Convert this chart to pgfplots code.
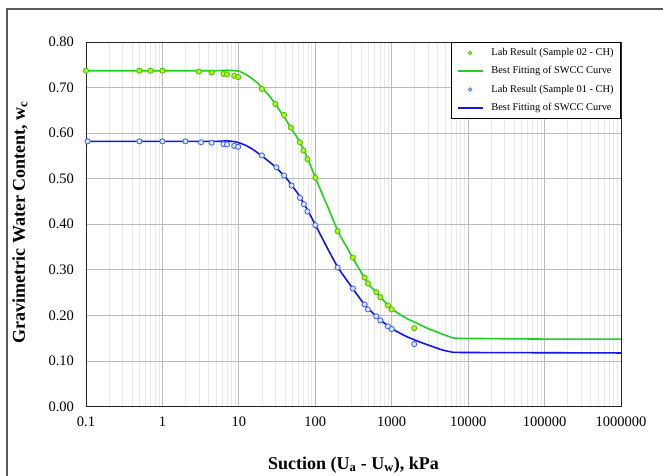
\documentclass[border=0pt]{standalone}
\usepackage{fontspec}
\setmainfont{Liberation Serif}
\usepackage{pgfplots}
\pgfplotsset{compat=1.18}
\definecolor{gline}{HTML}{1ED21E}
\definecolor{bline}{HTML}{1414F0}
\definecolor{gfill}{HTML}{B8F020}
\definecolor{gedge}{HTML}{44C400}
\definecolor{bfill}{HTML}{D4E8FF}
\definecolor{bedge}{HTML}{3A5CFF}
\definecolor{majgrid}{HTML}{BBBBBB}
\definecolor{mingrid}{HTML}{E8E8E8}
\definecolor{framec}{HTML}{5A5A5A}
\begin{document}
\begin{tikzpicture}
\useasboundingbox (0bp,0bp) rectangle (663bp,476bp);
\fill[white] (0bp,0bp) rectangle (663bp,476bp);
\draw[framec, line width=1.5bp] (7bp,-20bp) -- (7bp,467bp) -- (700bp,467bp);
\begin{axis}[
 at={(86bp,69.5bp)}, anchor=south west,
 scale only axis, width=535bp, height=364.5bp,
 xmode=log, xmin=0.1, xmax=1000000, ymin=0, ymax=0.8,
 xtick={0.1,1,10,100,1000,10000,100000,1000000},
 xticklabels={0.1,1,10,100,1000,10000,100000,1000000},
 minor xtick={0.2,0.3,0.4,0.5,0.6,0.7,0.8,0.9,2,3,4,5,6,7,8,9,20,30,40,50,60,70,80,90,200,300,400,500,600,700,800,900,2000,3000,4000,5000,6000,7000,8000,9000,20000,30000,40000,50000,60000,70000,80000,90000,200000,300000,400000,500000,600000,700000,800000,900000},
 ytick={0,0.1,0.2,0.3,0.4,0.5,0.6,0.7,0.8},
 yticklabels={0.00,0.10,0.20,0.30,0.40,0.50,0.60,0.70,0.80},
 grid=both,
 major grid style={majgrid, line width=0.8bp},
 minor grid style={mingrid, line width=0.6bp},
 major tick length=0pt, minor tick length=0pt,
 axis line style={black!85, line width=0.9bp},
 tick label style={font=\fontsize{14.5bp}{17bp}\selectfont},
 /pgf/number format/assume math mode=true,
 xticklabel style={yshift=-6.7bp},
 yticklabel style={xshift=-8.5bp},
 legend cell align=left,
 legend style={at={(1,1)}, anchor=north east, draw=black, line width=0.8bp, fill=white,
   font=\fontsize{10.4bp}{12bp}\selectfont, row sep=4.3bp, inner xsep=5bp, inner ysep=3.5bp,
   nodes={inner sep=2bp, text height=7.5bp, text depth=2.5bp},
   /tikz/every odd column/.append style={column sep=6bp}},
 legend image code/.code={\draw[mark repeat=2,mark phase=2,#1] plot coordinates {(0bp,0bp) (12.5bp,0bp) (25bp,0bp)};},
]
\addlegendimage{only marks, mark=*, mark size=1.8bp, mark options={draw=gedge, fill=gfill, line width=0.7bp}}
\addlegendentry{Lab Result (Sample 02 - CH)}
\addlegendimage{gline, line width=1.6bp}
\addlegendentry{Best Fitting of SWCC Curve}
\addlegendimage{only marks, mark=*, mark size=1.8bp, mark options={draw=bedge, fill=bfill, line width=0.7bp}}
\addlegendentry{Lab Result (Sample 01 - CH)}
\addlegendimage{bline, line width=1.6bp}
\addlegendentry{Best Fitting of SWCC Curve}

% green fitted curve
\addplot[gline, line width=1.6bp, smooth, tension=0.4, forget plot] coordinates {
(0.1,0.737) (1,0.737) (3,0.737) (5,0.737) (7,0.738) (9,0.737) (10,0.736) (12,0.730) (14,0.723)
(17,0.712) (20,0.700) (25,0.682) (30,0.664) (40,0.633) (50,0.607) (60,0.586) (70,0.565) (80,0.543)
(90,0.522) (100,0.503) (120,0.471) (150,0.433) (200,0.383) (250,0.354) (300,0.330) (400,0.294)
(500,0.268) (600,0.254) (700,0.242) (800,0.231) (900,0.222) (1000,0.214) (1500,0.195) (2000,0.185)
(2660,0.175) (3000,0.171) (4420,0.160) (5500,0.154) (6600,0.150) (10000,0.1495) (100000,0.148) (1000000,0.148)};
% blue fitted curve
\addplot[bline, line width=1.6bp, smooth, tension=0.4, forget plot] coordinates {
(0.1,0.582) (1,0.582) (5,0.582) (7,0.583) (9,0.581) (10,0.579) (12,0.574) (15,0.565) (20,0.550)
(25,0.537) (30,0.526) (40,0.505) (50,0.484) (60,0.466) (70,0.447) (80,0.430) (100,0.399) (150,0.342)
(200,0.304) (300,0.262) (400,0.233) (500,0.214) (600,0.201) (700,0.191) (800,0.183) (900,0.177)
(1000,0.171) (1500,0.155) (2000,0.146) (2660,0.138) (3000,0.135) (4420,0.125) (5500,0.121) (6300,0.119)
(10000,0.1185) (100000,0.118) (1000000,0.1175)};
% green lab points
\addplot[only marks, mark=*, mark size=2.6bp, mark options={draw=gedge, fill=gfill, line width=0.8bp}, forget plot] coordinates {
(0.1,0.737) (0.5,0.737) (0.7,0.737) (1,0.737) (3,0.735) (4.4,0.733) (6.3,0.730) (7,0.729) (8.7,0.726) (9.8,0.723)
(20,0.697) (30,0.664) (39,0.640) (48,0.612) (63,0.580) (70,0.562) (79,0.543) (100,0.502) (196,0.385)
(310,0.327) (442,0.283) (488,0.270) (629,0.251) (710,0.240) (893,0.222) (1000,0.213) (1970,0.172)};
% blue lab points
\addplot[only marks, mark=*, mark size=2.6bp, mark options={draw=bedge, fill=bfill, line width=0.8bp}, forget plot] coordinates {
(0.105,0.582) (0.5,0.582) (1,0.582) (2,0.582) (3.2,0.580) (4.4,0.579) (6.3,0.576) (7,0.575) (8.7,0.572) (9.8,0.570)
(20,0.551) (31,0.525) (39,0.507) (49,0.485) (63,0.458) (71,0.444) (79,0.428) (100,0.398) (196,0.305)
(310,0.259) (442,0.224) (488,0.213) (629,0.198) (710,0.189) (893,0.176) (1000,0.170) (1970,0.137)};
\end{axis}
\node[font=\bfseries\fontsize{18bp}{20bp}\selectfont] at (353.5bp,11bp) {Suction (U\textsubscript{a} - U\textsubscript{w}), kPa};
\node[rotate=90, font=\bfseries\fontsize{18bp}{20bp}\selectfont] at (20bp,254bp) {Gravimetric Water Content, w\textsubscript{c}};
\end{tikzpicture}
\end{document}
